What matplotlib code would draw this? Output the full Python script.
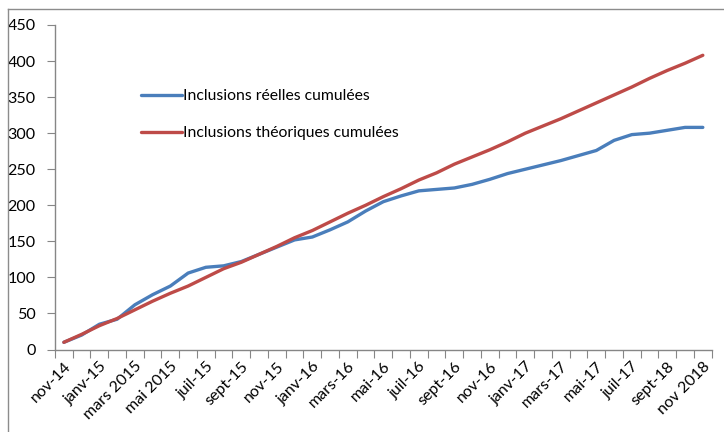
import matplotlib
matplotlib.use('Agg')
import matplotlib.pyplot as plt
from matplotlib.lines import Line2D

plt.rcParams['font.family'] = ['Lato', 'DejaVu Sans']

# monthly categories, nov-14 .. (37 points), labels on every other month
tick_labels = ['nov-14', 'janv-15', 'mars 2015', 'mai 2015', 'juil-15', 'sept-15',
               'nov-15', 'janv-16', 'mars-16', 'mai-16', 'juil-16', 'sept-16',
               'nov-16', 'janv-17', 'mars-17', 'mai-17', 'juil-17', 'sept-18',
               'nov 2018']

reelles = [10, 20, 35, 42, 62, 76, 88, 106, 114, 116, 122, 132, 142, 152, 156,
           166, 177, 192, 205, 213, 220, 222, 224, 229, 236, 244, 250, 256,
           262, 269, 276, 290, 298, 300, 304, 308, 308]

theoriques = [10, 21, 33, 43, 55, 67, 78, 88, 100, 112, 121, 132, 143, 155, 165,
              177, 189, 200, 212, 223, 235, 245, 257, 267, 277, 288, 300, 310,
              320, 331, 342, 353, 364, 376, 387, 397, 408]

blue = '#4A7EBB'
red = '#BE4B48'

fig = plt.figure(figsize=(7.24, 4.32), dpi=100)
ax = fig.add_axes([55 / 724, 1 - 349.5 / 432, (711.7 - 55) / 724, (349.5 - 25) / 432])

x = list(range(len(reelles)))
ax.plot(x, reelles, color=blue, lw=2.4, solid_capstyle='round',
        label='Inclusions réelles cumulées')
ax.plot(x, theoriques, color=red, lw=2.4, solid_capstyle='round',
        label='Inclusions théoriques cumulées')

ax.set_xlim(-0.5, len(reelles) - 0.5)
ax.set_ylim(0, 450)
ax.set_yticks(range(0, 451, 50))
ax.set_xticks([i - 0.5 for i in range(len(reelles) + 1)], minor=False)
ax.set_xticklabels([])
ax.set_xticks(x[::2], minor=True)
ax.set_xticklabels(tick_labels, minor=True, rotation=45, ha='right',
                   rotation_mode='anchor', fontsize=11.5)
ax.tick_params(axis='x', which='minor', length=0, pad=7)
ax.tick_params(axis='x', which='major', length=6, color='#868686', direction='out')
ax.tick_params(axis='y', length=6, color='#868686', labelsize=11.6, pad=8)

for s in ['top', 'right']:
    ax.spines[s].set_visible(False)
for s in ['left', 'bottom']:
    ax.spines[s].set_color('#868686')
    ax.spines[s].set_linewidth(1)

leg = ax.legend(loc='upper left', bbox_to_anchor=(0.11, 0.845), frameon=False,
                fontsize=11.3, handlelength=2.6, handletextpad=0.05,
                labelspacing=1.45)

# chart-area border (top and left visible)
fig.add_artist(Line2D([7.5 / 724, 7.5 / 724], [0, 1 - 9 / 432],
                      transform=fig.transFigure, color='#8c8c8c', lw=1))
fig.add_artist(Line2D([7.5 / 724, 1], [1 - 9 / 432, 1 - 9 / 432],
                      transform=fig.transFigure, color='#8c8c8c', lw=1))

fig.savefig('out.png', dpi=100)
